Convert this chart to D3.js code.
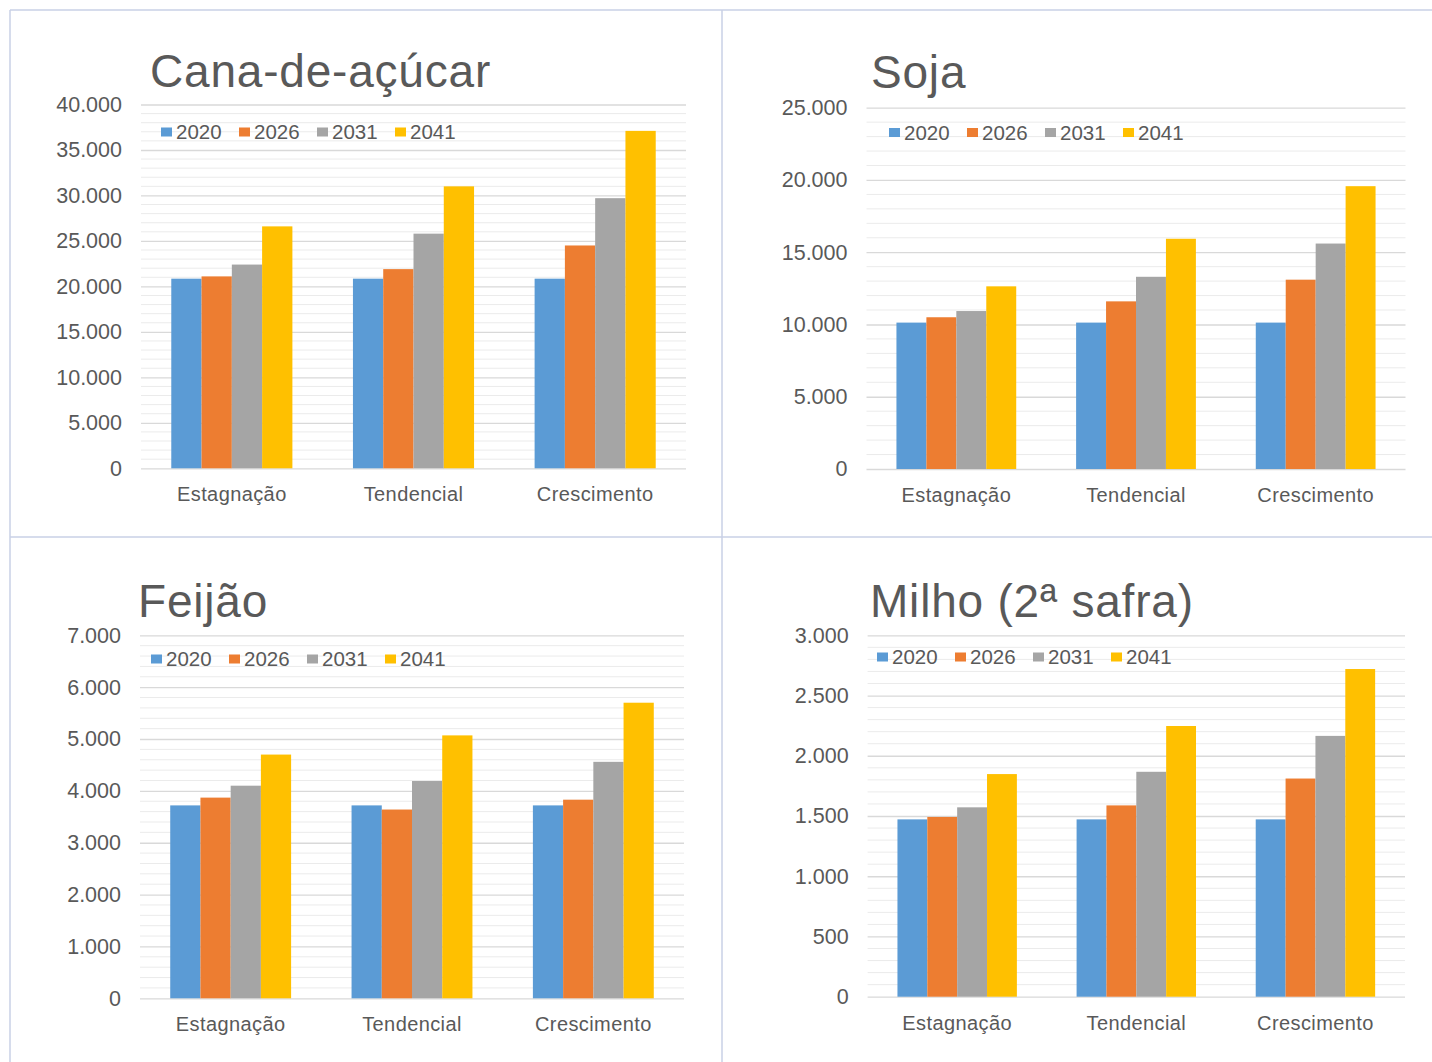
<!DOCTYPE html>
<html>
<head>
<meta charset="utf-8">
<script src="https://cdn.jsdelivr.net/npm/d3@7"></script>
<style>
  body { margin: 0; background: #fff; }
  svg { display: block; font-family: "Liberation Sans", Arial, sans-serif; }
</style>
</head>
<body>
<svg id="chart" width="1432" height="1062"></svg>
<script>
// data
var categories = ["Estagnação", "Tendencial", "Crescimento"];
var years = ["2020", "2026", "2031", "2041"];
var titles = ["Cana-de-açúcar", "Soja", "Feijão", "Milho (2ª safra)"];

// one row per category, one value per year
var canaValues   = [[20850, 21100, 22400, 26600], [20850, 21900, 25800, 31000], [20850, 24500, 29700, 37100]];
var sojaValues   = [[10130, 10500, 10930, 12640], [10130, 11600, 13300, 15930], [10130, 13100, 15600, 19570]];
var feijaoValues = [[3720, 3870, 4100, 4700], [3720, 3640, 4190, 5070], [3720, 3830, 4560, 5700]];
var milhoValues  = [[1472, 1492, 1572, 1848], [1472, 1588, 1867, 2247], [1472, 1811, 2165, 2720]];

var yMax = [40000, 25000, 7000, 3000];
var majorStep = [5000, 5000, 1000, 500];
var minorStep = [1000, 1000, 200, 100];

var colors = ["#5B9BD5", "#ED7D31", "#A5A5A5", "#FFC000"];
var textColor = "#595959";

// where each small chart sits on the page
var layout = [
  {x0: 141, x1: 686, yTop: 104.5, yBase: 468.3, titleX: 150, titleY: 87, legX: 161, legY: 132},
  {x0: 866.5, x1: 1405.5, yTop: 107.7, yBase: 469, titleX: 871, titleY: 87.5, legX: 889, legY: 132.5},
  {x0: 140, x1: 684, yTop: 635.3, yBase: 998.3, titleX: 138, titleY: 617, legX: 151, legY: 659},
  {x0: 867.6, x1: 1405, yTop: 635.3, yBase: 996.7, titleX: 870, titleY: 617, legX: 877, legY: 657}
];

var allValues = [canaValues, sojaValues, feijaoValues, milhoValues];

var ptBR = d3.formatLocale({decimal: ",", thousands: ".", grouping: [3], currency: ["R$", ""]});
var fmt = ptBR.format(",d");

var svg = d3.select("#chart");

// panel borders
var borderColor = "#c9d1e6";
[[10, 10, 1432, 10], [10, 537, 1432, 537], [10, 10, 10, 1062], [722, 10, 722, 1062]].forEach(function(l) {
  svg.append("line")
    .attr("x1", l[0]).attr("y1", l[1]).attr("x2", l[2]).attr("y2", l[3])
    .attr("stroke", borderColor).attr("stroke-width", 1.5);
});

function drawPanel(i) {
  var L = layout[i], data = allValues[i];
  var g = svg.append("g").attr("class", "panel p" + i);

  var x = d3.scaleBand().domain(categories).range([L.x0, L.x1]).paddingInner(1/3).paddingOuter(1/6);
  var xi = d3.scaleBand().domain(years).range([0, x.bandwidth()]);
  var y = d3.scaleLinear().domain([0, yMax[i]]).range([L.yBase, L.yTop]);

  // minor gridlines
  var minors = d3.range(0, yMax[i] + 1, minorStep[i]).filter(function(v) { return v % majorStep[i] !== 0; });
  g.append("g").selectAll("line").data(minors).enter()
    .append("line")
    .attr("x1", L.x0).attr("x2", L.x1)
    .attr("y1", function(d) { return y(d); }).attr("y2", function(d) { return y(d); })
    .attr("stroke", "#ebebeb").attr("stroke-width", 1);

  // y axis with major gridlines
  var yAxis = d3.axisLeft(y)
    .tickValues(d3.range(0, yMax[i] + 1, majorStep[i]))
    .tickSize(-(L.x1 - L.x0))
    .tickPadding(19)
    .tickFormat(fmt);
  var ya = g.append("g").attr("class", "y axis")
    .attr("transform", "translate(" + L.x0 + ",0)")
    .call(yAxis);
  ya.select(".domain").remove();
  ya.selectAll(".tick line").attr("stroke", "#d9d9d9").attr("stroke-width", 1.3);
  ya.selectAll(".tick text")
    .attr("fill", textColor)
    .style("font-size", "21.5px");

  // bars
  var groups = g.append("g").selectAll("g").data(data).enter()
    .append("g")
    .attr("transform", function(d, k) { return "translate(" + x(categories[k]) + ",0)"; });
  groups.selectAll("rect").data(function(d) { return d; }).enter()
    .append("rect")
    .attr("x", function(d, j) { return xi(years[j]); })
    .attr("width", xi.bandwidth())
    .attr("y", function(d) { return y(d); })
    .attr("height", function(d) { return y(0) - y(d); })
    .attr("fill", function(d, j) { return colors[j]; });

  // category axis
  var xAxis = d3.axisBottom(x).tickSize(0).tickPadding(19);
  var xa = g.append("g").attr("class", "x axis")
    .attr("transform", "translate(0," + L.yBase + ")")
    .call(xAxis);
  xa.select(".domain").remove();
  xa.selectAll(".tick text")
    .attr("fill", textColor)
    .style("font-size", "20px")
    .style("letter-spacing", "0.4px");

  // title
  g.append("text")
    .attr("x", L.titleX)
    .attr("y", L.titleY)
    .attr("fill", textColor)
    .style("font-size", "46px")
    .style("letter-spacing", "0.8px")
    .text(titles[i]);

  // legend
  var leg = g.append("g").attr("transform", "translate(" + L.legX + "," + L.legY + ")");
  var item = leg.selectAll("g").data(years).enter()
    .append("g")
    .attr("transform", function(d, j) { return "translate(" + (j * 78) + ",0)"; });
  item.append("rect")
    .attr("x", 0).attr("y", -4.5)
    .attr("width", 11).attr("height", 9)
    .attr("fill", function(d, j) { return colors[j]; });
  item.append("text")
    .attr("x", 15)
    .attr("y", 7)
    .attr("fill", textColor)
    .style("font-size", "20.5px")
    .text(function(d) { return d; });
}

for (var i = 0; i < 4; i++) drawPanel(i);
</script>
</body>
</html>
